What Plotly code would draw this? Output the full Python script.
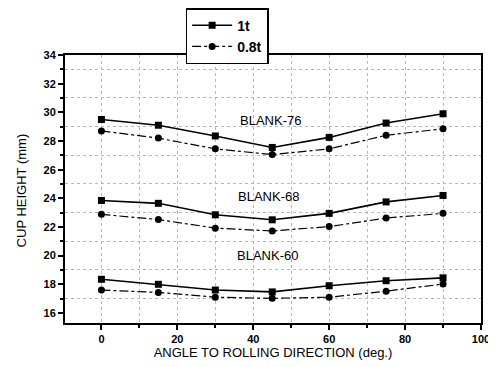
import plotly.graph_objects as go

angles = [0, 15, 30, 45, 60, 75, 90]

blank76_1t = [29.5, 29.1, 28.35, 27.55, 28.25, 29.25, 29.9]
blank76_08t = [28.7, 28.2, 27.45, 27.05, 27.45, 28.4, 28.85]
blank68_1t = [23.85, 23.65, 22.85, 22.5, 22.95, 23.75, 24.2]
blank68_08t = [22.88, 22.52, 21.92, 21.72, 22.03, 22.62, 22.95]
blank60_1t = [18.35, 18.0, 17.6, 17.47, 17.9, 18.25, 18.45]
blank60_08t = [17.6, 17.43, 17.1, 17.02, 17.1, 17.52, 18.02]

labels = ["BLANK-76", "BLANK-68", "BLANK-60"]
label_x = [44.6, 44.0, 43.8]
label_y = [29.45, 24.15, 20.0]

font_family = "Liberation Sans, Arial, sans-serif"

fig = go.Figure()

series_1t = [blank76_1t, blank68_1t, blank60_1t]
series_08t = [blank76_08t, blank68_08t, blank60_08t]

for i, ys in enumerate(series_1t):
    fig.add_trace(go.Scatter(
        x=angles, y=ys, mode="lines+markers", name="1t",
        showlegend=(i == 0), legendgroup="1t",
        line=dict(color="black", width=1.6),
        marker=dict(symbol="square", size=7, color="black"),
    ))
for i, ys in enumerate(series_08t):
    fig.add_trace(go.Scatter(
        x=angles, y=ys, mode="lines+markers", name="0.8t",
        showlegend=(i == 0), legendgroup="08t",
        line=dict(color="black", width=1.2, dash="dashdot"),
        marker=dict(symbol="circle", size=7, color="black"),
    ))

for t, x, y in zip(labels, label_x, label_y):
    fig.add_annotation(x=x, y=y, text=t, showarrow=False,
                       font=dict(family=font_family, size=13, color="black"))

# y-axis title as a rotated annotation
fig.add_annotation(xref="paper", yref="paper", x=-0.105, y=0.496,
                   text="CUP HEIGHT (mm)", textangle=-90, showarrow=False,
                   xanchor="center", yanchor="middle",
                   font=dict(family=font_family, size=13, color="black"))

axis_common = dict(
    showline=True, linecolor="black", linewidth=2, mirror=True,
    ticks="outside", tickcolor="black", ticklen=5, tickwidth=1.5,
    zeroline=False, ticklabeloverflow="allow",
    tickfont=dict(family=font_family, size=11, color="black", weight="bold"),
    title_font=dict(family=font_family, size=13, color="black"),
)

fig.update_xaxes(
    range=[-9.6, 100], tick0=0, dtick=20,
    title_text="ANGLE TO ROLLING DIRECTION (deg.)", title_standoff=4,
    showgrid=True, gridcolor="#b8b8b8", gridwidth=1, griddash="dot",
    minor=dict(dtick=10, ticks="outside", ticklen=3, tickcolor="black",
               showgrid=True, gridcolor="#b8b8b8", griddash="dot"),
    **axis_common,
)
fig.update_yaxes(
    range=[15.3, 34], tick0=16, dtick=2,
    showgrid=False,
    minor=dict(dtick=1, tick0=15, ticks="outside", ticklen=3, tickcolor="black",
               showgrid=True, gridcolor="#b8b8b8", griddash="dot"),
    **axis_common,
)

# the page body adds an 8px offset, so the figure is drawn 8px smaller
fig.update_layout(
    width=488, height=359,
    margin=dict(l=57, r=15, t=47, b=44, autoexpand=False),
    paper_bgcolor="white", plot_bgcolor="white",
    font=dict(family=font_family, color="black"),
    legend=dict(
        x=0.29, y=1.175, xanchor="left", yanchor="top",
        bordercolor="black", borderwidth=1.5, bgcolor="white",
        font=dict(family=font_family, size=14, color="black", weight="bold"),
        tracegroupgap=0, itemwidth=40,
    ),
)

fig.write_html("out.html")
